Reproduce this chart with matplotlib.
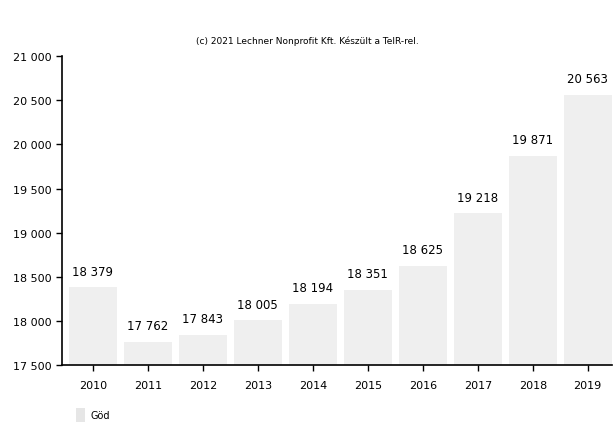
import matplotlib
matplotlib.use("Agg")
import matplotlib.pyplot as plt
from matplotlib.patches import Patch
from matplotlib.ticker import FuncFormatter

years = ["2010", "2011", "2012", "2013", "2014", "2015", "2016", "2017", "2018", "2019"]
population = [18379, 17762, 17843, 18005, 18194, 18351, 18625, 19218, 19871, 20563]
yticks = [17500, 18000, 18500, 19000, 19500, 20000, 20500, 21000]

bar_color = "#efefef"


def thousands(v, pos=None):
    return "{:,}".format(int(v)).replace(",", " ")


fig = plt.figure(figsize=(6.15, 4.27), dpi=100)
ax = fig.add_axes([0.101, 0.143, 0.894, 0.723])

xs = range(len(years))
ax.bar(xs, population, width=0.88, color=bar_color, edgecolor="none")
for x, v in zip(xs, population):
    ax.text(x, v + 110, thousands(v), ha="center", va="bottom", fontsize=8.5)

ax.set_ylim(17500, 21000)
ax.set_xlim(-0.56, 9.44)
ax.set_yticks(yticks)
ax.yaxis.set_major_formatter(FuncFormatter(thousands))
ax.set_xticks(list(xs))
ax.set_xticklabels(years)
ax.tick_params(axis="both", labelsize=8, length=4, width=1)
ax.tick_params(axis="x", pad=7)
for side in ["top", "right"]:
    ax.spines[side].set_visible(False)
ax.spines["left"].set_linewidth(1.2)
ax.spines["bottom"].set_linewidth(1.2)

fig.text(0.5, 0.892, "(c) 2021 Lechner Nonprofit Kft. Készült a TeIR-rel.",
         ha="center", va="bottom", fontsize=6.5)

fig.legend(handles=[Patch(facecolor="#e6e6e6", edgecolor="none", label="Göd")],
           loc="lower left", bbox_to_anchor=(0.11, -0.01), frameon=False,
           fontsize=7, handlelength=0.9, handleheight=1.8, handletextpad=0.6)

fig.savefig("out.png", dpi=100)
